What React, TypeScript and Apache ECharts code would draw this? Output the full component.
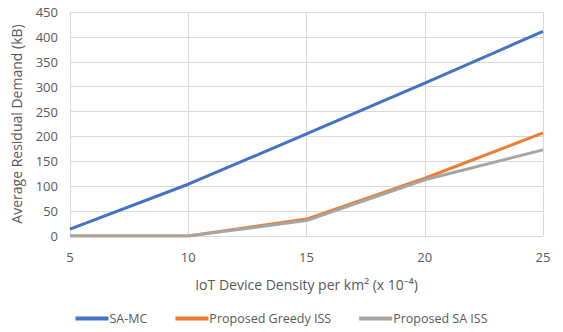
import React, { useEffect, useRef } from "react";
import * as echarts from "echarts";

const xValues = [5, 10, 15, 20, 25];
const saMc = [14, 104, 205, 307, 411];
const greedyIss = [0, 0, 34, 116, 207];
const saIss = [0, 0, 31, 113, 173];
const seriesNames = ["SA-MC", "Proposed Greedy ISS", "Proposed SA ISS"];

export default function App() {
  const ref = useRef<HTMLDivElement>(null);
  useEffect(() => {
    const chart = echarts.init(ref.current!, null, { renderer: "svg" });
    const font = "Open Sans";
    const pair = (ys: number[]) => xValues.map((x, i) => [x, ys[i]]);
    chart.setOption({
      animation: false,
      textStyle: { fontFamily: font },
      grid: { left: 70, right: 20, top: 12, bottom: 96 },
      xAxis: {
        type: "value",
        min: 5,
        max: 25,
        interval: 5,
        name: "IoT Device Density per km² (x 10⁻⁴)",
        nameLocation: "middle",
        nameGap: 41,
        nameTextStyle: { color: "#595959", fontSize: 14, fontFamily: font },
        axisLine: { show: false },
        axisTick: { show: false },
        axisLabel: { color: "#595959", fontSize: 13, margin: 14, fontFamily: font },
        splitLine: { show: true, lineStyle: { color: "#d9d9d9", width: 1 } },
      },
      yAxis: {
        type: "value",
        min: 0,
        max: 450,
        interval: 50,
        name: "Average Residual Demand (kB)",
        nameLocation: "middle",
        nameGap: 47,
        nameTextStyle: { color: "#595959", fontSize: 14, fontFamily: font },
        axisLine: { show: false },
        axisTick: { show: false },
        axisLabel: { color: "#595959", fontSize: 13, margin: 12, fontFamily: font },
        splitLine: { show: true, lineStyle: { color: "#d9d9d9", width: 1 } },
      },
      legend: {
        bottom: 2,
        left: "center",
        icon: "rect",
        itemWidth: 33,
        itemHeight: 4,
        itemGap: 28,
        textStyle: { color: "#595959", fontSize: 12.5, fontFamily: font, padding: [0, 0, 0, -4] },
        data: seriesNames,
      },
      series: [
        { name: seriesNames[0], type: "line", data: pair(saMc), showSymbol: false, symbol: "none", lineStyle: { color: "#4472C4", width: 3 }, itemStyle: { color: "#4472C4" } },
        { name: seriesNames[1], type: "line", data: pair(greedyIss), showSymbol: false, symbol: "none", lineStyle: { color: "#ED7D31", width: 3 }, itemStyle: { color: "#ED7D31" } },
        { name: seriesNames[2], type: "line", data: pair(saIss), showSymbol: false, symbol: "none", lineStyle: { color: "#A5A5A5", width: 3 }, itemStyle: { color: "#A5A5A5" } },
      ],
    });
    return () => chart.dispose();
  }, []);
  return <div ref={ref} style={{ width: 563, height: 332, position: "absolute", left: 0, top: 0, background: "#fff" }} />;
}
